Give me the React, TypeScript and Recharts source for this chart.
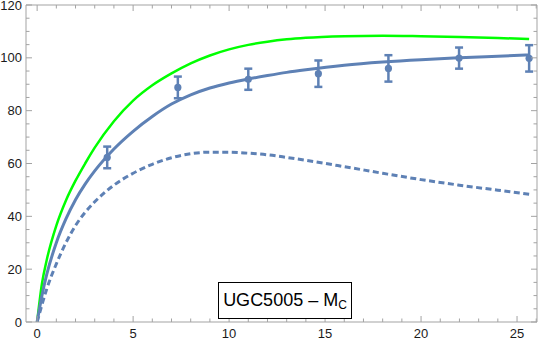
import React from "react";
import {
    ComposedChart,
    Line,
    Scatter,
    ErrorBar,
    XAxis,
    YAxis,
} from "recharts";

// radius samples shared by the three model curves
const radii = [0, 0.25, 0.5, 1, 1.5, 2, 2.5, 3, 4, 5, 6, 7, 8, 9, 10, 11, 12, 13, 14, 16, 18, 20, 22, 24, 25.63];
const vGreen = [0, 14.5, 23.5, 36.5, 46, 53.5, 60, 66, 76, 83.8, 89.6, 94.1, 97.9, 100.9, 103.2, 104.9, 106.1, 107.0, 107.6, 108.2, 108.4, 108.2, 107.9, 107.5, 107.1];
const vFit = [0, 10, 18, 30, 39, 46.3, 52.2, 57.2, 65.5, 72.2, 77.8, 82.5, 86, 88.6, 90.5, 92.0, 93.3, 94.5, 95.5, 97.2, 98.4, 99.3, 100.0, 100.6, 101.1];
const vBaryon = [0, 6.5, 12.5, 22, 30, 36.5, 41.5, 45.5, 51.8, 56.3, 59.7, 62.2, 63.7, 64.3, 64.3, 63.9, 63.3, 62.3, 61.2, 58.8, 56.3, 53.9, 51.8, 49.9, 48.4];

// observed rotation velocities
const obsR = [3.65, 7.33, 11.0, 14.65, 18.3, 21.98, 25.63];
const obsV = [62.3, 88.8, 91.9, 94.0, 96.0, 99.9, 99.8];
const obsErr = [4.1, 4.1, 4.0, 5.0, 5.0, 4.0, 5.0];

const xTicks = Array.from({ length: 27 }, (_, i) => i);
const yTicks = Array.from({ length: 25 }, (_, i) => i * 5);

const BLUE = "#5E81B5";
const GREEN = "#00FF00";
const FRAME = "#a3a3a3";
const FONT = "'Liberation Sans', Arial, sans-serif";

const toSeries = (ys: number[]) => radii.map((x, i) => ({ x, y: ys[i] }));
const greenData = toSeries(vGreen);
const fitData = toSeries(vFit);
const baryonData = toSeries(vBaryon);
const obsData = obsR.map((x, i) => ({ x, y: obsV[i], err: obsErr[i] }));

const BottomTick = (props: any) => {
    const { x, y, payload } = props;
    const major = payload.value % 5 === 0;
    return (
        <g>
            <line x1={x} x2={x} y1={y} y2={y - (major ? 6 : 3.5)} stroke={FRAME} />
            {major && (
                <text x={x} y={y + 15.5} textAnchor="middle" fontSize={13} fontFamily={FONT} fill="#1a1a1a">
                    {payload.value}
                </text>
            )}
        </g>
    );
};

const TopTick = (props: any) => {
    const { x, y, payload } = props;
    const major = payload.value % 5 === 0;
    return <line x1={x} x2={x} y1={y} y2={y + (major ? 6 : 3.5)} stroke={FRAME} />;
};

const LeftTick = (props: any) => {
    const { x, y, payload } = props;
    const major = payload.value % 20 === 0;
    return (
        <g>
            <line x1={x} x2={x + (major ? 6 : 3.5)} y1={y} y2={y} stroke={FRAME} />
            {major && (
                <text x={x - 4} y={y + 4.6} textAnchor="end" fontSize={13} fontFamily={FONT} fill="#1a1a1a">
                    {payload.value}
                </text>
            )}
        </g>
    );
};

const RightTick = (props: any) => {
    const { x, y, payload } = props;
    const major = payload.value % 20 === 0;
    return <line x1={x} x2={x - (major ? 6 : 3.5)} y1={y} y2={y} stroke={FRAME} />;
};

const Dot = (p: any) => <circle cx={p.cx} cy={p.cy} r={3.6} fill={BLUE} />;

export default function App() {
    return (
        <div style={{ position: "absolute", left: 0, top: 0, width: 542, height: 340, background: "#fff" }}>
            <ComposedChart width={542} height={340} margin={{ top: 4, right: 4, bottom: 0, left: 0 }}>
                <XAxis
                    xAxisId="b"
                    dataKey="x"
                    type="number"
                    domain={[-0.58, 26.04]}
                    ticks={xTicks}
                    interval={0}
                    height={18}
                    tickSize={0}
                    tickMargin={0}
                    stroke={FRAME}
                    tick={<BottomTick />}
                    allowDataOverflow
                />
                <XAxis
                    xAxisId="t"
                    orientation="top"
                    dataKey="x"
                    type="number"
                    domain={[-0.58, 26.04]}
                    ticks={xTicks}
                    interval={0}
                    height={1}
                    tickSize={0}
                    tickMargin={0}
                    stroke={FRAME}
                    tick={<TopTick />}
                    allowDataOverflow
                />
                <YAxis
                    yAxisId="l"
                    type="number"
                    domain={[0, 120]}
                    ticks={yTicks}
                    interval={0}
                    width={26}
                    tickSize={0}
                    tickMargin={0}
                    stroke={FRAME}
                    tick={<LeftTick />}
                    allowDataOverflow
                />
                <YAxis
                    yAxisId="r"
                    orientation="right"
                    type="number"
                    domain={[0, 120]}
                    ticks={yTicks}
                    interval={0}
                    width={1}
                    tickSize={0}
                    tickMargin={0}
                    stroke={FRAME}
                    tick={<RightTick />}
                    allowDataOverflow
                />
                <Line
                    xAxisId="b"
                    yAxisId="l"
                    data={greenData}
                    dataKey="y"
                    type="monotone"
                    stroke={GREEN}
                    strokeWidth={2.5}
                    dot={false}
                    isAnimationActive={false}
                />
                <Line
                    xAxisId="b"
                    yAxisId="l"
                    data={fitData}
                    dataKey="y"
                    type="monotone"
                    stroke={BLUE}
                    strokeWidth={3}
                    dot={false}
                    isAnimationActive={false}
                />
                <Line
                    xAxisId="b"
                    yAxisId="l"
                    data={baryonData}
                    dataKey="y"
                    type="monotone"
                    stroke={BLUE}
                    strokeWidth={3}
                    strokeDasharray="6 3.5"
                    dot={false}
                    isAnimationActive={false}
                />
                <Scatter
                    xAxisId="b"
                    yAxisId="l"
                    data={obsData}
                    dataKey="y"
                    fill={BLUE}
                    shape={<Dot />}
                    isAnimationActive={false}
                >
                    <ErrorBar dataKey="err" direction="y" width={4} stroke={BLUE} strokeWidth={2.5} />
                </Scatter>
            </ComposedChart>
            <div
                style={{
                    position: "absolute",
                    left: 218,
                    top: 282,
                    width: 132,
                    height: 35,
                    border: "1.5px solid #000",
                    background: "#fff",
                    display: "flex",
                    alignItems: "center",
                    justifyContent: "center",
                    fontFamily: FONT,
                    fontSize: 18,
                    color: "#000",
                    whiteSpace: "nowrap",
                }}
            >
                <span>
                    UGC5005 – M<sub style={{ fontSize: 12, verticalAlign: "-3px" }}>C</sub>
                </span>
            </div>
        </div>
    );
}
